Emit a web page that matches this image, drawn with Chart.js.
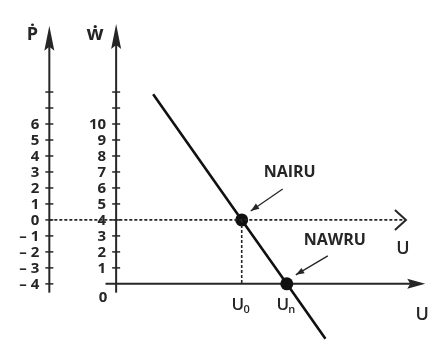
<!DOCTYPE html>
<html>
<head>
<meta charset="utf-8">
<script src="https://cdn.jsdelivr.net/npm/chart.js@4/dist/chart.umd.min.js"></script>
<style>
body { margin: 0; background: #fff; }
</style>
</head>
<body>
<canvas id="myChart" width="434" height="350"></canvas>
<script>
// price inflation (P), wage inflation (W) and unemployment (U)
const pTicks = [-4, -3, -2, -1, 0, 1, 2, 3, 4, 5, 6, 7, 8];
const pLabels = ['\u2013 4', '\u2013 3', '\u2013 2', '\u2013 1', '0', '1', '2', '3', '4', '5', '6', '', ''];
const wTicks = [1, 2, 3, 4, 5, 6, 7, 8, 9, 10, 11, 12];
const wLabels = ['1', '2', '3', '4', '5', '6', '7', '8', '9', '10', '', ''];

// wage Phillips curve
const uLine = [2.3, 7.8, 10.6, 13.0];
const wLine = [11.86, 4, 0, -3.43];

// natural rates
const rateNames = ['NAIRU', 'NAWRU'];
const rateSubs = ['0', 'n'];
const rateU = [7.8, 10.6];
const rateW = [4, 0];

const pShift = 4;      // P = W - 4
const pAxisU = -4.15;  // where the P axis stands on the U scale
const ink = '#262626';
const font = '"Open Sans", sans-serif';

vAxis = (ctx, ax, scale, ticks, labels, lo, hi) => {
    let y0 = scale.getPixelForValue(lo), y1 = scale.getPixelForValue(hi);
    ctx.lineWidth = 2;
    ctx.beginPath();
    ctx.moveTo(ax, y0);
    ctx.lineTo(ax, y1 + 18);
    ctx.stroke();
    // arrow head
    ctx.beginPath();
    ctx.moveTo(ax, y1);
    ctx.lineTo(ax + 5, y1 + 25);
    ctx.lineTo(ax, y1 + 21);
    ctx.lineTo(ax - 5, y1 + 25);
    ctx.closePath();
    ctx.fill();
    ctx.lineWidth = 1.5;
    ctx.font = '700 15px ' + font;
    ctx.textAlign = 'right';
    ctx.textBaseline = 'middle';
    for (let i = 0; i < ticks.length; i++) {
        let y = scale.getPixelForValue(ticks[i]);
        ctx.beginPath();
        ctx.moveTo(ax - 4, y);
        ctx.lineTo(ax + 4, y);
        ctx.stroke();
        if (labels[i]) ctx.fillText(labels[i], ax - 10, y + 1);
    }
}

const axesPlugin = {
    id: 'axes',
    beforeDatasetsDraw(chart) {
        const ctx = chart.ctx;
        const x = chart.scales.x, w = chart.scales.y, p = chart.scales.p;
        ctx.save();
        ctx.strokeStyle = ink;
        ctx.fillStyle = ink;
        let px = x.getPixelForValue(pAxisU), wx = x.getPixelForValue(0);
        vAxis(ctx, px, p, pTicks, pLabels, -4.55, 12.15);
        vAxis(ctx, wx, w, wTicks, wLabels, -0.55, 16.25);

        ctx.textAlign = 'center';
        ctx.textBaseline = 'alphabetic';
        let top = w.getPixelForValue(16.25);
        ctx.font = '700 18px ' + font;
        ctx.fillText('\u1E56', px - 17, top + 16);
        ctx.font = '700 20px ' + font;
        ctx.fillText('\u1E87', wx - 21, top + 16);
        ctx.font = '700 15px ' + font;
        ctx.textBaseline = 'middle';
        ctx.fillText('0', wx - 13, w.getPixelForValue(-0.85));

        // solid U axis
        let y0 = w.getPixelForValue(0), ux = x.getPixelForValue(19.2);
        ctx.lineWidth = 2;
        ctx.beginPath();
        ctx.moveTo(x.getPixelForValue(-0.66), y0);
        ctx.lineTo(ux - 12, y0);
        ctx.stroke();
        ctx.beginPath();
        ctx.moveTo(ux, y0);
        ctx.lineTo(ux - 18, y0 - 5);
        ctx.lineTo(ux - 15, y0);
        ctx.lineTo(ux - 18, y0 + 5);
        ctx.closePath();
        ctx.fill();

        // open head on the dashed U line
        let dx = x.getPixelForValue(18), dy = w.getPixelForValue(4);
        ctx.beginPath();
        ctx.moveTo(dx - 11, dy - 10);
        ctx.lineTo(dx, dy);
        ctx.lineTo(dx - 11, dy + 10);
        ctx.stroke();

        ctx.font = '600 18px ' + font;
        ctx.fillText('U', dx - 3, dy + 29);
        ctx.fillText('U', ux - 3, y0 + 31);
        ctx.restore();
    },
    afterDatasetsDraw(chart) {
        const ctx = chart.ctx;
        const x = chart.scales.x, w = chart.scales.y;
        ctx.save();
        ctx.strokeStyle = ink;
        ctx.fillStyle = ink;
        ctx.lineWidth = 1.3;
        for (let i = 0; i < rateNames.length; i++) {
            let cx = x.getPixelForValue(rateU[i]), cy = w.getPixelForValue(rateW[i]);
            ctx.font = '700 16px ' + font;
            ctx.textAlign = 'center';
            ctx.textBaseline = 'middle';
            ctx.fillText(rateNames[i], cx + 48, cy - 47 + i * 4);
            // pointer
            let tx = cx + 41, ty = cy - 31 + i * 3, hx = cx + 9, hy = cy - 9;
            let a = Math.atan2(hy - ty, hx - tx);
            ctx.beginPath();
            ctx.moveTo(tx, ty);
            ctx.lineTo(hx, hy);
            ctx.stroke();
            ctx.beginPath();
            ctx.moveTo(hx, hy);
            ctx.lineTo(hx - 9 * Math.cos(a - 0.35), hy - 9 * Math.sin(a - 0.35));
            ctx.lineTo(hx - 9 * Math.cos(a + 0.35), hy - 9 * Math.sin(a + 0.35));
            ctx.closePath();
            ctx.fill();
            // U0 / Un under the axis
            let ly = w.getPixelForValue(0) + 21;
            ctx.font = '600 17px ' + font;
            ctx.fillText('U', cx - 4, ly);
            ctx.font = '600 11px ' + font;
            ctx.fillText(rateSubs[i], cx + 5, ly + 5);
        }
        ctx.restore();
    }
};

const ctx = document.getElementById('myChart').getContext('2d');
const myChart = new Chart(ctx, {
    type: 'scatter',
    data: {
        datasets: [{
            // dashed guide at the NAIRU level
            data: [{x: pAxisU, y: rateW[0]}, {x: 18, y: rateW[0]}],
            showLine: true,
            borderColor: ink,
            borderWidth: 1.6,
            borderDash: [3, 2],
            pointRadius: 0
        }, {
            data: [{x: rateU[0], y: rateW[0]}, {x: rateU[0], y: 0}],
            showLine: true,
            borderColor: ink,
            borderWidth: 1.6,
            borderDash: [3, 2],
            pointRadius: 0
        }, {
            data: uLine.map((u, i) => ({x: u, y: wLine[i]})),
            showLine: true,
            borderColor: '#111',
            borderWidth: 2.6,
            pointRadius: 0
        }, {
            data: rateU.map((u, i) => ({x: u, y: rateW[i]})),
            pointRadius: 6.5,
            pointBackgroundColor: '#111',
            pointBorderColor: '#111',
            pointBorderWidth: 0
        }]
    },
    options: {
        responsive: false,
        animation: false,
        devicePixelRatio: 1,
        layout: { padding: 0 },
        plugins: { legend: { display: false }, tooltip: { enabled: false } },
        scales: {
            x: { type: 'linear', min: -6.81, max: 19.34, display: false },
            y: { type: 'linear', min: -3.73, max: 17.35, display: false },
            p: { type: 'linear', axis: 'y', min: -3.73 - pShift, max: 17.35 - pShift, display: false }
        }
    },
    plugins: [axesPlugin]
});
</script>
</body>
</html>
